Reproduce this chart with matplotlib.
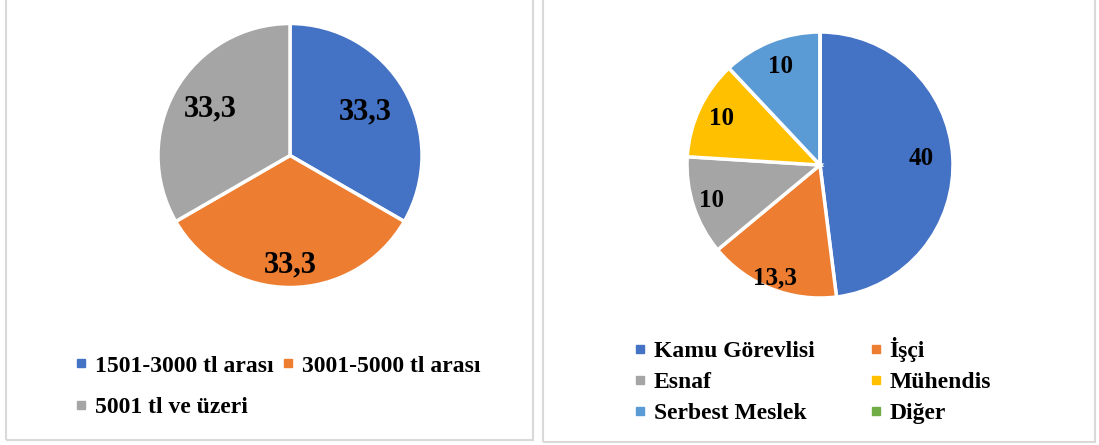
import numpy as np
import matplotlib
matplotlib.use('Agg')
import matplotlib.pyplot as plt
from matplotlib.lines import Line2D
from matplotlib.patches import Rectangle

plt.rcParams['font.family'] = ['Liberation Serif', 'DejaVu Serif']
plt.rcParams['font.weight'] = 'bold'

# Gelir dağılımı (sol grafik)
income_labels = ['1501-3000 tl arası', '3001-5000 tl arası', '5001 tl ve üzeri']
income_values = [33.3, 33.3, 33.3]
income_colors = ['#4472C4', '#ED7D31', '#A5A5A5']

# Meslek dağılımı (sağ grafik)
job_labels = ['Kamu Görevlisi', 'İşçi', 'Esnaf', 'Mühendis', 'Serbest Meslek', 'Diğer']
job_values = [40, 13.3, 10, 10, 10, 0]
job_colors = ['#4472C4', '#ED7D31', '#A5A5A5', '#FFC000', '#5B9BD5', '#70AD47']

W, H = 1099, 445
fig = plt.figure(figsize=(W / 100, H / 100), dpi=100)


def px_axes(cx, cy, r, lim=1.05):
    s = r * lim
    return fig.add_axes([(cx - s) / W, (H - cy - s) / H, 2 * s / W, 2 * s / H])


def fmt(v):
    return f'{v:g}'.replace('.', ',')


def draw_pie(ax, values, colors, label_r, fontsize):
    wedges, _ = ax.pie(values, colors=colors, startangle=90, counterclock=False,
                       wedgeprops=dict(edgecolor='white', linewidth=2.5))
    for w, v, r in zip(wedges, values, label_r):
        if v == 0:
            continue
        t = np.deg2rad((w.theta1 + w.theta2) / 2)
        ax.text(r * np.cos(t), r * np.sin(t), fmt(v), ha='center', va='center',
                fontsize=fontsize, fontweight='bold', color='black')
    ax.set_xlim(-1.05, 1.05)
    ax.set_ylim(-1.05, 1.05)
    ax.set_aspect('equal')
    ax.axis('off')
    return wedges


# panel borders
fig.add_artist(Rectangle((6 / W, 1 - 440 / H), 527 / W, 445 / H, transform=fig.transFigure,
                         fill=False, edgecolor='#D9D9D9', linewidth=1.5))
fig.add_artist(Rectangle((543 / W, 1 - 442 / H), 552 / W, 447 / H, transform=fig.transFigure,
                         fill=False, edgecolor='#D9D9D9', linewidth=1.5))

ax1 = px_axes(290, 155.5, 132)
draw_pie(ax1, income_values, income_colors, [0.66, 0.83, 0.7], 22)

ax2 = px_axes(820, 165, 133)
draw_pie(ax2, job_values, job_colors, [0.76, 0.91, 0.86, 0.82, 0.8, 0.8], 18)


def handles(colors):
    return [Line2D([], [], marker='s', linestyle='none', markersize=5.5,
                   markerfacecolor=c, markeredgecolor=c) for c in colors]


h1 = handles(income_colors)
order1 = [0, 2, 1]
fig.legend([h1[i] for i in order1], [income_labels[i] for i in order1], ncol=2,
           loc='upper left', bbox_to_anchor=(75 / W, 1 - 355 / H), frameon=False,
           prop=dict(family='Liberation Serif', weight='bold', size=17),
           handlelength=0.55, handletextpad=0.3, columnspacing=0.35, labelspacing=0.85,
           borderpad=0, borderaxespad=0)

h2 = handles(job_colors)
order2 = [0, 2, 4, 1, 3, 5]
fig.legend([h2[i] for i in order2], [job_labels[i] for i in order2], ncol=2,
           loc='upper left', bbox_to_anchor=(634 / W, 1 - 337 / H), frameon=False,
           prop=dict(family='Liberation Serif', weight='bold', size=17),
           handlelength=0.55, handletextpad=0.3, columnspacing=2.3, labelspacing=0.4,
           borderpad=0, borderaxespad=0)

fig.savefig('out.png', dpi=100)
